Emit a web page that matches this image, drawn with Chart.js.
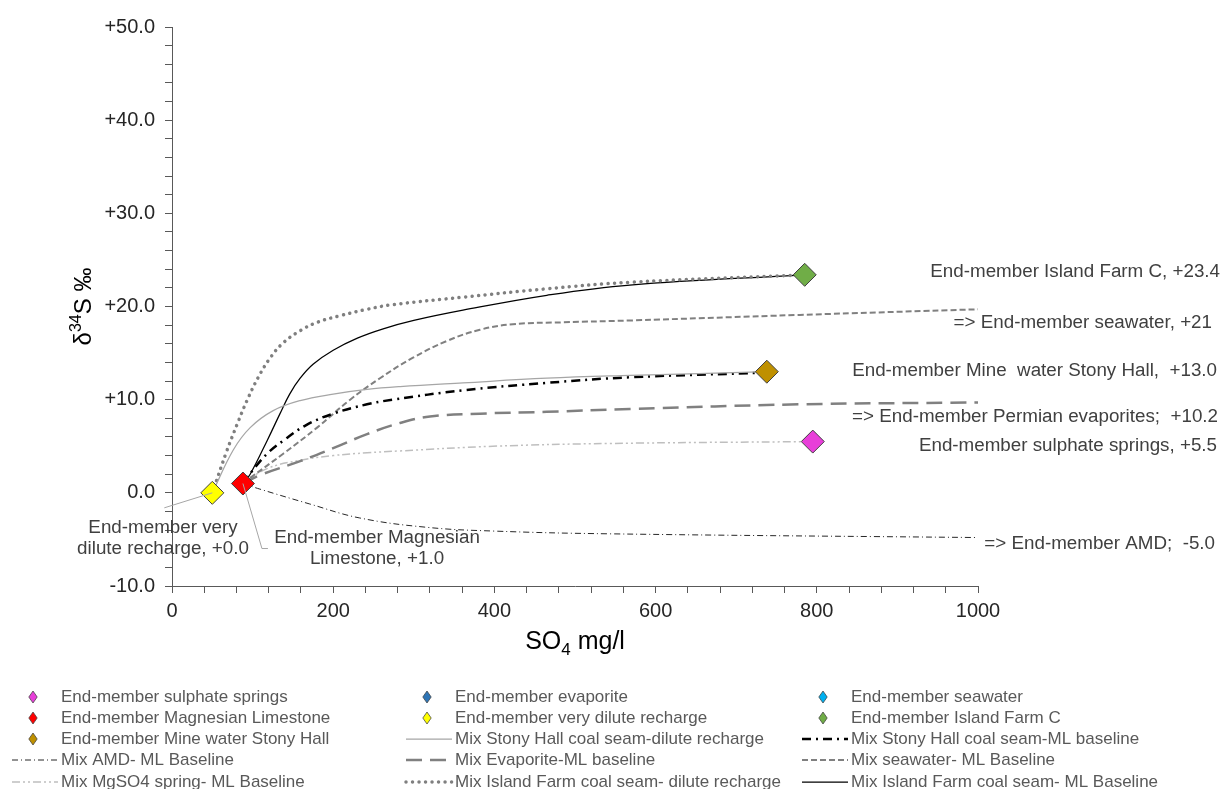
<!DOCTYPE html>
<html>
<head>
<meta charset="utf-8">
<script src="https://cdn.jsdelivr.net/npm/chart.js@4.4.1/dist/chart.umd.min.js"></script>
<style>
  body { margin: 0; background: #fff; }
  #wrap { width: 1223px; height: 789px; position: relative; }
</style>
</head>
<body>
<div id="wrap"><canvas id="chart"></canvas></div>
<script>
// end-member points, [SO4 mg/l, d34S permil]
const ptSulphateSprings = [[795, 5.5]];
const ptEvaporite = [];
const ptSeawater = [];
const ptMagnesianLimestone = [[88, 1.0]];
const ptDiluteRecharge = [[50, 0.0]];
const ptIslandFarmC = [[785, 23.4]];
const ptStonyHall = [[738, 13.0]];

// mixing curves
const mixStonyDilute = [[50, 0], [76, 4.6], [97, 7.0], [125, 8.8], [159, 9.9], [200, 10.6], [242, 11.1], [283, 11.4], [361, 11.8], [465, 12.3], [568, 12.6], [738, 13.0]];
const mixStonyML = [[88, 1.0], [100, 2.4], [118, 4.2], [138, 5.6], [167, 7.3], [200, 8.5], [242, 9.5], [274, 10.0], [361, 11.0], [465, 11.8], [568, 12.4], [738, 12.9]];
const mixAmdML = [[88, 1.0], [109, 0.4], [171, -1.2], [233, -2.7], [316, -3.7], [398, -4.1], [543, -4.4], [1000, -4.8]];
const mixEvaporiteML = [[88, 1.0], [109, 1.9], [159, 3.4], [200, 4.8], [242, 6.3], [283, 7.5], [320, 8.2], [382, 8.5], [465, 8.7], [568, 9.0], [779, 9.5], [1000, 9.7]];
const mixSeawaterML = [[88, 1.0], [97, 1.6], [138, 4.2], [180, 7.0], [221, 10.0], [258, 12.3], [299, 14.5], [341, 16.3], [382, 17.5], [423, 18.1], [485, 18.3], [568, 18.5], [779, 19.1], [1000, 19.7]];
const mixMgSO4ML = [[88, 1.0], [118, 2.6], [159, 3.5], [200, 4.0], [242, 4.3], [283, 4.5], [398, 5.0], [543, 5.3], [795, 5.5]];
const mixIslandDilute = [[50, 0], [68, 4.5], [81, 7.4], [93, 9.9], [107, 12.4], [122, 14.5], [138, 16.1], [159, 17.4], [180, 18.3], [208, 19.0], [242, 19.7], [274, 20.2], [361, 21.0], [465, 21.9], [568, 22.6], [785, 23.4]];
const mixIslandML = [[88, 1.0], [97, 2.0], [118, 5.6], [134, 8.5], [146, 10.6], [159, 12.3], [175, 13.8], [200, 15.3], [230, 16.6], [262, 17.6], [300, 18.5], [361, 19.6], [465, 21.2], [568, 22.3], [785, 23.4]];

const seriesNames = [
  'End-member sulphate springs', 'End-member evaporite', 'End-member seawater',
  'End-member Magnesian Limestone', 'End-member very dilute recharge', 'End-member Island Farm C',
  'End-member Mine water Stony Hall', 'Mix Stony Hall coal seam-dilute recharge', 'Mix Stony Hall coal seam-ML baseline',
  'Mix AMD- ML Baseline', 'Mix Evaporite-ML baseline', 'Mix seawater- ML Baseline',
  'Mix MgSO4 spring- ML Baseline', 'Mix Island Farm coal seam- dilute recharge', 'Mix Island Farm coal seam- ML Baseline'
];

// text labels beside the plot
const endLabels = [
  ['End-member Island Farm C, +23.4'],
  ['=> End-member seawater, +21'],
  ['End-member Mine  water Stony Hall,  +13.0'],
  ['=> End-member Permian evaporites;  +10.2'],
  ['End-member sulphate springs, +5.5'],
  ['=> End-member AMD;  -5.0'],
  ['End-member very', 'dilute recharge, +0.0'],
  ['End-member Magnesian', 'Limestone, +1.0']
];
const labelPos = [
  { x: 1220, y: 272, align: 'right' },
  { x: 1212, y: 323, align: 'right' },
  { x: 1217, y: 371, align: 'right' },
  { x: 1218, y: 417, align: 'right' },
  { x: 1217, y: 446, align: 'right' },
  { x: 1215, y: 544, align: 'right' },
  { x: 163, y: 528, align: 'center' },
  { x: 377, y: 538, align: 'center' }
];

const xy = arr => arr.map(p => ({ x: p[0], y: p[1] }));

function marker(i, data, color) {
  return {
    label: seriesNames[i], data: xy(data),
    pointStyle: 'rectRot', pointRadius: 11.5, pointHoverRadius: 11.5,
    backgroundColor: color, borderColor: '#404040', borderWidth: 1, showLine: false
  };
}
function curve(i, data, color, width, dash, cap) {
  return {
    label: seriesNames[i], data: xy(data), showLine: true,
    borderColor: color, borderWidth: width, borderDash: dash, borderCapStyle: cap || 'butt',
    pointRadius: 0, pointHoverRadius: 0, tension: 0.4, fill: false
  };
}

const datasets = [
  marker(0, ptSulphateSprings, '#E83FD9'),
  marker(1, ptEvaporite, '#2E75B6'),
  marker(2, ptSeawater, '#00B0F0'),
  marker(3, ptMagnesianLimestone, '#FF0000'),
  marker(4, ptDiluteRecharge, '#FFFF00'),
  marker(5, ptIslandFarmC, '#70AD47'),
  marker(6, ptStonyHall, '#BF9000'),
  curve(7, mixStonyDilute, '#A6A6A6', 1.25, []),
  curve(8, mixStonyML, '#000000', 2.5, [9, 5, 2, 5]),
  curve(9, mixAmdML, '#262626', 1, [6, 3, 1, 3]),
  curve(10, mixEvaporiteML, '#808080', 2.5, [16, 8]),
  curve(11, mixSeawaterML, '#808080', 2, [6, 3]),
  curve(12, mixMgSO4ML, '#BFBFBF', 1.5, [8, 3, 2, 3, 2, 3]),
  curve(13, mixIslandDilute, '#7F7F7F', 3.5, [0.01, 6.5], 'round'),
  curve(14, mixIslandML, '#000000', 1.25, [])
];

const decor = {
  id: 'decor',
  afterDraw(chart) {
    const ctx = chart.ctx;
    const xs = chart.scales.x, ys = chart.scales.y, area = chart.chartArea;
    ctx.save();

    // leader lines for the two labelled points near the origin
    ctx.strokeStyle = '#A6A6A6';
    ctx.lineWidth = 1;
    let px = xs.getPixelForValue(ptDiluteRecharge[0][0]), py = ys.getPixelForValue(ptDiluteRecharge[0][1]);
    ctx.beginPath(); ctx.moveTo(px, py); ctx.lineTo(px - 48, py + 15); ctx.stroke();
    px = xs.getPixelForValue(ptMagnesianLimestone[0][0]); py = ys.getPixelForValue(ptMagnesianLimestone[0][1]);
    ctx.beginPath(); ctx.moveTo(px, py); ctx.lineTo(px + 19, py + 65); ctx.lineTo(px + 25, py + 65); ctx.stroke();

    // end-member labels
    ctx.fillStyle = '#404040';
    ctx.font = '18.8px "Liberation Sans", Arial, sans-serif';
    ctx.textBaseline = 'middle';
    endLabels.forEach((lines, i) => {
      const p = labelPos[i];
      ctx.textAlign = p.align;
      lines.forEach((t, k) => ctx.fillText(t, p.x, p.y + k * 21));
    });

    // axis titles with sub/superscripts
    ctx.fillStyle = '#000000';
    ctx.textAlign = 'left';
    ctx.textBaseline = 'alphabetic';
    let big = '25px "Liberation Sans", Arial, sans-serif';
    let small = '17px "Liberation Sans", Arial, sans-serif';
    let parts = [['SO', big, 0], ['4', small, 6], [' mg/l', big, 0]];
    let w = 0;
    parts.forEach(p => { ctx.font = p[1]; w += ctx.measureText(p[0]).width; });
    let cx = (area.left + area.right) / 2 - w / 2;
    parts.forEach(p => { ctx.font = p[1]; ctx.fillText(p[0], cx, 649 + p[2]); cx += ctx.measureText(p[0]).width; });

    big = '24px "Liberation Sans", Arial, sans-serif';
    small = '16px "Liberation Sans", Arial, sans-serif';
    parts = [['δ', big, 0], ['34', small, -10], ['S ‰', big, 0]];
    w = 0;
    parts.forEach(p => { ctx.font = p[1]; w += ctx.measureText(p[0]).width; });
    ctx.translate(91, (area.top + area.bottom) / 2);
    ctx.rotate(-Math.PI / 2);
    cx = -w / 2;
    parts.forEach(p => { ctx.font = p[1]; ctx.fillText(p[0], cx, p[2]); cx += ctx.measureText(p[0]).width; });
    ctx.restore();

    // legend grid, 3 columns
    ctx.save();
    const colText = [61, 455, 851];
    const rowY = [697, 718, 739, 760, 782];
    ctx.font = '17px "Liberation Sans", Arial, sans-serif';
    ctx.textBaseline = 'middle';
    ctx.textAlign = 'left';
    chart.data.datasets.forEach((ds, i) => {
      const tx = colText[i % 3], ty = rowY[Math.floor(i / 3)];
      if (ds.showLine) {
        ctx.strokeStyle = ds.borderColor;
        ctx.lineWidth = ds.borderWidth;
        ctx.setLineDash(ds.borderDash);
        ctx.lineCap = ds.borderCapStyle;
        ctx.beginPath(); ctx.moveTo(tx - 49, ty); ctx.lineTo(tx - 3, ty); ctx.stroke();
        ctx.setLineDash([]);
        ctx.lineCap = 'butt';
      } else {
        const r = 6, mx = tx - 28;
        ctx.fillStyle = ds.backgroundColor;
        ctx.strokeStyle = '#404040';
        ctx.lineWidth = 0.75;
        ctx.beginPath();
        ctx.moveTo(mx, ty - r); ctx.lineTo(mx + r * 0.7, ty); ctx.lineTo(mx, ty + r); ctx.lineTo(mx - r * 0.7, ty);
        ctx.closePath(); ctx.fill(); ctx.stroke();
      }
      ctx.fillStyle = '#595959';
      ctx.fillText(ds.label, tx, ty);
    });
    ctx.restore();
  }
};

new Chart(document.getElementById('chart'), {
  type: 'scatter',
  data: { datasets },
  plugins: [decor],
  options: {
    responsive: true,
    maintainAspectRatio: false,
    animation: false,
    layout: { padding: { left: 0, right: 245, top: 27, bottom: 143 } },
    plugins: { legend: { display: false }, tooltip: { enabled: false } },
    scales: {
      x: {
        type: 'linear', min: 0, max: 1000,
        afterFit: s => { s.height = 60; },
        border: { color: '#595959', width: 1 },
        grid: { drawOnChartArea: false, drawTicks: true, tickLength: 7, color: '#595959' },
        ticks: {
          stepSize: 40, autoSkip: false, maxTicksLimit: 100, maxRotation: 0, padding: 6,
          color: '#262626', font: { size: 20, family: '"Liberation Sans", Arial, sans-serif' },
          callback: v => (Math.round(v) % 200 === 0 ? String(Math.round(v)) : '')
        }
      },
      y: {
        type: 'linear', min: -10, max: 50,
        afterFit: s => { s.width = 172; },
        border: { color: '#595959', width: 1 },
        grid: { drawOnChartArea: false, drawTicks: true, tickLength: 7, color: '#595959' },
        ticks: {
          stepSize: 2, autoSkip: false, maxTicksLimit: 100, padding: 10,
          color: '#262626', font: { size: 20, family: '"Liberation Sans", Arial, sans-serif' },
          callback: v => {
            if (Math.abs(Math.round(v) % 10) !== 0) return '';
            return v > 0 ? '+' + v.toFixed(1) : v.toFixed(1);
          }
        }
      }
    }
  }
});
</script>
</body>
</html>
